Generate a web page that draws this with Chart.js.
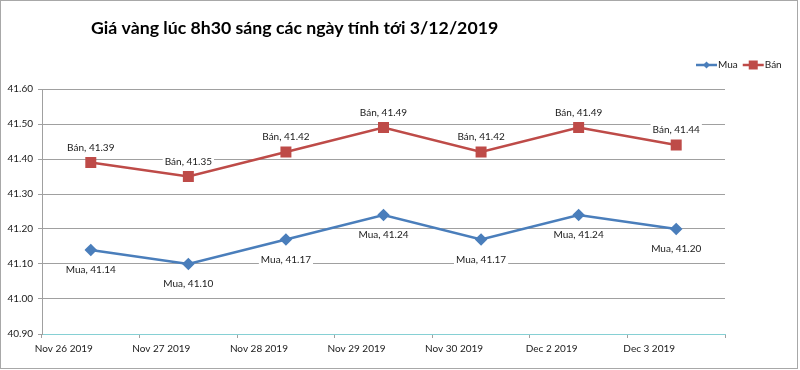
<!DOCTYPE html>
<html><head><meta charset="utf-8">
<script src="https://cdn.jsdelivr.net/npm/chart.js@4"></script>
<style>html,body{margin:0;padding:0;background:#fff}#wrap{width:800px;height:370px;position:relative}</style>
</head><body><div id="wrap"><canvas id="c" width="800" height="370"></canvas></div>
<script>
const chartTitle = 'Giá vàng lúc 8h30 sáng các ngày tính tới 3/12/2019';
const categories = ['Nov 26 2019','Nov 27 2019','Nov 28 2019','Nov 29 2019','Nov 30 2019','Dec 2 2019','Dec 3 2019'];
const muaValues = [41.14, 41.10, 41.17, 41.24, 41.17, 41.24, 41.20];
const banValues = [41.39, 41.35, 41.42, 41.49, 41.42, 41.49, 41.44];
const yTicks = [40.90, 41.00, 41.10, 41.20, 41.30, 41.40, 41.50, 41.60];
const seriesNames = ['Mua', 'Bán'];

const BLUE = '#4A7EBB', RED = '#BE4B48';
const FONT = 'Lato, "Liberation Sans", sans-serif';

function drawMarker(ctx, style, x, y, color, r) {
  ctx.save();
  ctx.fillStyle = color;
  ctx.beginPath();
  if (style === 'rectRot') {
    ctx.moveTo(x, y - r); ctx.lineTo(x + r, y); ctx.lineTo(x, y + r); ctx.lineTo(x - r, y);
    ctx.closePath();
  } else {
    ctx.rect(x - r, y - r, 2 * r, 2 * r);
  }
  ctx.fill();
  ctx.restore();
}

const decor = {
  id: 'decor',
  beforeDraw(chart) {
    const ctx = chart.ctx;
    ctx.save();
    ctx.fillStyle = '#fff';
    ctx.fillRect(0, 0, chart.width, chart.height);
    ctx.strokeStyle = '#a8a8a8';
    ctx.lineWidth = 1;
    ctx.strokeRect(0.5, 0.5, 797, 368);
    ctx.restore();
  },
  afterDatasetsDraw(chart) {
    const ctx = chart.ctx;
    ctx.save();
    ctx.font = '10px ' + FONT;
    ctx.textAlign = 'center';
    ctx.textBaseline = 'middle';
    chart.data.datasets.forEach((ds, di) => {
      const meta = chart.getDatasetMeta(di);
      meta.data.forEach((pt, i) => {
        const txt = ds.label + ', ' + ds.data[i].toFixed(2);
        const dy = di === 1 ? -15 : 20;
        const w = ctx.measureText(txt).width;
        ctx.fillStyle = '#fff';
        ctx.fillRect(pt.x - w / 2 - 2, pt.y + dy - 6, w + 4, 12);
        ctx.fillStyle = '#1a1a1a';
        ctx.fillText(txt, pt.x, pt.y + dy);
      });
    });
    ctx.restore();
  },
  afterDraw(chart) {
    const ctx = chart.ctx;
    ctx.save();
    ctx.fillStyle = '#000';
    ctx.font = 'bold 17.7px ' + FONT;
    ctx.textAlign = 'left';
    ctx.textBaseline = 'middle';
    ctx.fillText(chartTitle, 91, 28);
    // legend
    ctx.font = '10px ' + FONT;
    let x = 696;
    const y = 65;
    chart.data.datasets.forEach((ds, di) => {
      ctx.strokeStyle = ds.borderColor;
      ctx.lineWidth = 2.5;
      ctx.beginPath();
      ctx.moveTo(x, y); ctx.lineTo(x + 21, y);
      ctx.stroke();
      drawMarker(ctx, ds.pointStyle, x + 10.5, y, ds.borderColor, di === 0 ? 3.5 : 4.5);
      ctx.fillStyle = '#1a1a1a';
      ctx.fillText(ds.label, x + 22, y);
      x += 22 + ctx.measureText(ds.label).width + 5;
    });
    ctx.restore();
  }
};

new Chart(document.getElementById('c'), {
  type: 'line',
  data: {
    labels: categories,
    datasets: [
      { label: seriesNames[0], data: muaValues, borderColor: BLUE, backgroundColor: BLUE,
        borderWidth: 2.5, pointStyle: 'rectRot', pointRadius: 4.5, pointHoverRadius: 4.5, tension: 0 },
      { label: seriesNames[1], data: banValues, borderColor: RED, backgroundColor: RED,
        borderWidth: 2.5, pointStyle: 'rect', pointRadius: 6, pointHoverRadius: 6, tension: 0 }
    ]
  },
  options: {
    responsive: false,
    animation: false,
    devicePixelRatio: 1,
    layout: { padding: { top: 89, right: 75, left: 0, bottom: 0 } },
    plugins: { legend: { display: false }, tooltip: { enabled: false }, title: { display: false } },
    scales: {
      x: {
        type: 'category',
        offset: true,
        afterFit(s) { s.height = 36; },
        grid: { offset: true, drawOnChartArea: false, drawTicks: true, tickLength: 4, color: '#a0a0a0' },
        border: { display: true, color: '#86d0d4', width: 1 },
        ticks: { font: { family: FONT, size: 10 }, color: '#1a1a1a', padding: 5, labelOffset: -27,
                 maxRotation: 0, autoSkip: false }
      },
      y: {
        min: yTicks[0],
        max: yTicks[yTicks.length - 1],
        afterFit(s) { s.width = 42; },
        afterBuildTicks(s) { s.ticks = yTicks.map(v => ({ value: v })); },
        grid: { color: '#a0a0a0', lineWidth: 1, drawTicks: true, tickLength: 4 },
        border: { display: true, color: '#a0a0a0' },
        ticks: { font: { family: FONT, size: 10 }, color: '#1a1a1a', padding: 5,
                 callback: v => Number(v).toFixed(2) }
      }
    }
  },
  plugins: [decor]
});
</script></body></html>
